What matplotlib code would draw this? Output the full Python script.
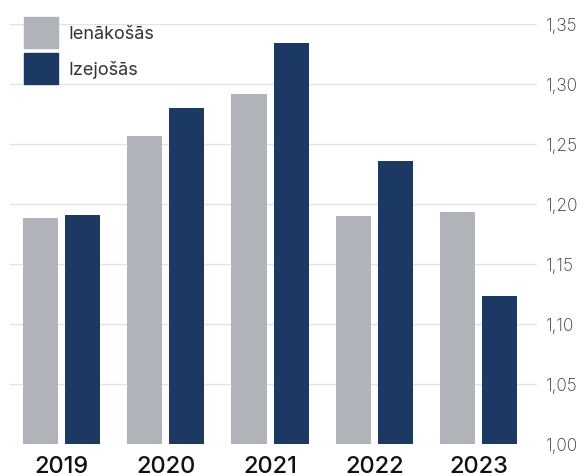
import matplotlib
matplotlib.use("Agg")
import matplotlib.pyplot as plt
import numpy as np
from matplotlib.ticker import FuncFormatter
from matplotlib.patches import Patch

years = ["2019", "2020", "2021", "2022", "2023"]
ienakosas = [1.188, 1.257, 1.292, 1.190, 1.193]
izejosas = [1.191, 1.280, 1.334, 1.236, 1.123]

gray = "#B1B3BA"
navy = "#1C3963"

plt.rcParams['font.family'] = ['Inter', 'DejaVu Sans']

fig = plt.figure(figsize=(5.81, 4.77), dpi=100)
ax = fig.add_axes([10 / 581, 32 / 477, 527 / 581, 420 / 477])

x = np.arange(len(years))
w = 0.336
off = 0.2015
ax.bar(x - off, ienakosas, w, color=gray, zorder=2)
ax.bar(x + off, izejosas, w, color=navy, zorder=2)

ax.set_ylim(1.0, 1.35)
ax.set_xlim(-0.494, 4.561)
ax.set_yticks(np.arange(1.0, 1.351, 0.05))
ax.yaxis.set_major_formatter(FuncFormatter(lambda v, p: f"{v:.2f}".replace(".", ",")))
ax.yaxis.tick_right()
ax.grid(axis="y", color="#E3E3E3", linewidth=1, zorder=0)
ax.tick_params(axis="y", length=0, pad=6.5, labelsize=12.5, labelcolor="#333333")
for lab in ax.get_yticklabels():
    lab.set_fontweight("light")
ax.set_xticks(x)
ax.set_xticklabels(years, fontsize=17, fontweight="medium", color="#111111")
ax.tick_params(axis="x", length=0, pad=8)
for s in ax.spines.values():
    s.set_visible(False)

handles = [Patch(color=gray, label="Ienākošās"), Patch(color=navy, label="Izejošās")]
leg = fig.legend(handles=handles, loc="upper left", bbox_to_anchor=(24 / 581, 1 - 18 / 477),
                 frameon=False, fontsize=13, handlelength=1.88, handleheight=2.26,
                 labelspacing=0.3, borderpad=0, borderaxespad=0, handletextpad=0.55)
for t in leg.get_texts():
    t.set_color("#333333")

fig.savefig("out.png", dpi=100)
